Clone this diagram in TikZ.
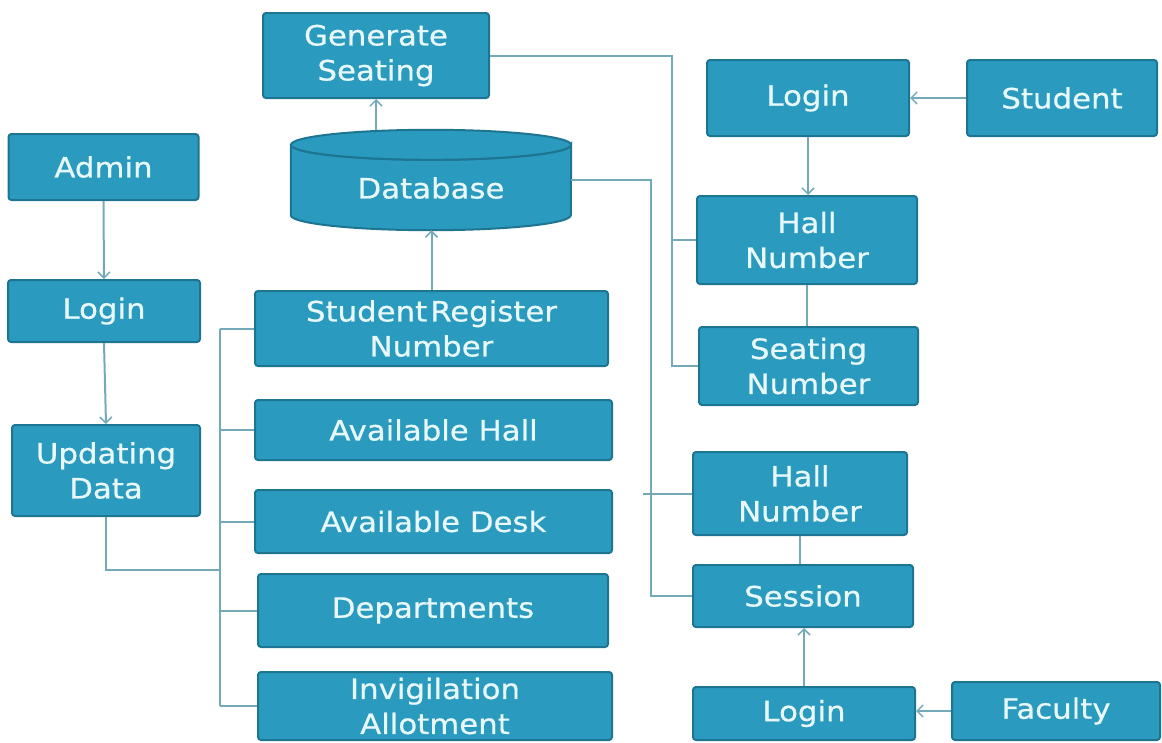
\documentclass[tikz,border=0pt]{standalone}
\usepackage{fontspec}
\setmainfont{DejaVu Sans}[FakeStretch=1.1,FakeBold=0.6]
\usetikzlibrary{arrows.meta}
\definecolor{boxfill}{HTML}{2A9BBE}
\definecolor{boxedge}{HTML}{1D7591}
\definecolor{boxtext}{HTML}{E8F8FA}
\definecolor{linkc}{HTML}{74AAB8}
\tikzset{
  box/.style={draw=boxedge, line width=2pt, fill=boxfill, rounded corners=3pt,
    text=boxtext, align=center, inner sep=0pt,
    font=\fontsize{28}{35}\selectfont},
  link/.style={draw=linkc, line width=2pt},
  arr/.style={link, -{Straight Barb[length=6pt,width=12pt,line width=1.5pt]}},
}
\begin{document}
\begin{tikzpicture}[x=1pt,y=-1pt]
\useasboundingbox (0,0) rectangle (1162,742);
% left column
\node[box, minimum width=190pt, minimum height=66pt] (admin) at (103.5,167) {Admin};
\node[box, minimum width=192pt, minimum height=62pt] (login1) at (104,311) {Login};
\node[box, minimum width=188pt, minimum height=91pt] (upd) at (106,470.5) {Updating\\Data};
% middle column
\node[box, minimum width=226pt, minimum height=85pt] (gen) at (376,55.5) {Generate\\Seating};
% database cylinder
\node[minimum width=280pt, minimum height=100pt, inner sep=0pt] (db) at (431,180) {};
\fill[boxfill, draw=boxedge, line width=2pt]
  ([yshift=-15pt]db.north west) -- ([yshift=15pt]db.south west)
  arc[start angle=180, end angle=360, x radius=140pt, y radius=15pt]
  -- ([yshift=-15pt]db.north east)
  arc[start angle=0, end angle=180, x radius=140pt, y radius=-15pt] -- cycle;
\fill[boxfill, draw=boxedge, line width=2pt]
  ([yshift=-15pt]db.north) ellipse[x radius=140pt, y radius=15pt];
\node[text=boxtext, font=\fontsize{28}{35}\selectfont] (dbtext) at (431,188) {Database};
\node[box, minimum width=353pt, minimum height=75pt] (srn) at (431.5,328.5) {Student\hspace{3pt}Register\\Number};
\node[box, minimum width=357pt, minimum height=60pt] (ahall) at (433.5,430) {Available Hall};
\node[box, minimum width=357pt, minimum height=63pt] (adesk) at (433.5,521.5) {Available Desk};
\node[box, minimum width=350pt, minimum height=73pt] (dept) at (433,610.5) {Departments};
\node[box, minimum width=354pt, minimum height=68pt] (invig) at (435,706) {Invigilation\\Allotment};
% right column
\node[box, minimum width=202pt, minimum height=76pt] (slogin) at (808,98) {Login};
\node[box, minimum width=190pt, minimum height=76pt] (student) at (1062,98) {Student};
\node[box, minimum width=220pt, minimum height=88pt] (hall1) at (807,240) {Hall\\Number};
\node[box, minimum width=219pt, minimum height=78pt] (seat) at (808.5,366) {Seating\\Number};
\node[box, minimum width=214pt, minimum height=83pt] (hall2) at (800,493.5) {Hall\\Number};
\node[box, minimum width=220pt, minimum height=62pt] (session) at (803,596) {Session};
\node[box, minimum width=222pt, minimum height=53pt] (flogin) at (804,713.5) {Login};
\node[box, minimum width=208pt, minimum height=58pt] (faculty) at (1056,711) {Faculty};
% bus coordinates
\coordinate (lbus) at (220,570);
\coordinate (gbus) at (672,366);
\coordinate (gb1) at (672,240);
\coordinate (dbus) at (651,596);
\coordinate (db1) at (643,493.5);
% left connectors
\draw[arr] (admin.south) -- (login1.north);
\draw[arr] (login1.south) -- (upd.north);
\draw[link] (upd.south) |- (lbus);
\draw[link] (srn.west -| lbus) -- (invig.west -| lbus);
\foreach \n in {srn,ahall,adesk,dept,invig}
  \draw[link] (\n.west -| lbus) -- (\n.west);
% database links
\draw[arr] (gen.south |- db.north) -- (gen.south);
\draw[arr] (srn.north) -- (srn.north |- db.south);
\draw[link] (gen.east) -| (gbus) -- (seat.west);
\draw[link] (gb1) -- (hall1.west);
\draw[link] (db.east) -| (dbus) -- (session.west);
\draw[link] (db1) -- (hall2.west);
% right connectors
\draw[arr] (student.west) -- (slogin.east);
\draw[arr] (slogin.south) -- (slogin.south |- hall1.north);
\draw[link] (hall1.south) -- (hall1.south |- seat.north);
\draw[link] (hall2.south) -- (hall2.south |- session.north);
\draw[arr] (flogin.north) -- (flogin.north |- session.south);
\draw[arr] (faculty.west) -- (flogin.east |- faculty.west);
\end{tikzpicture}
\end{document}
